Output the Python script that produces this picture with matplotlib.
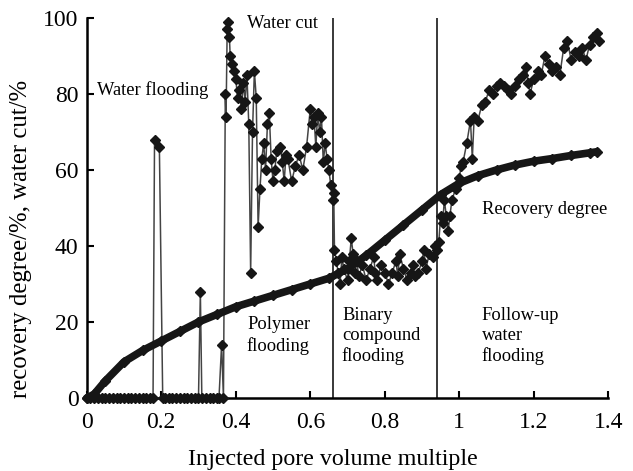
import matplotlib
matplotlib.use("Agg")
import matplotlib.pyplot as plt

plt.rcParams['font.family'] = ['Liberation Serif', 'DejaVu Serif']

# recovery degree curve
rec_x = [0, 0.02, 0.05, 0.1, 0.15, 0.2, 0.25, 0.3, 0.35, 0.4, 0.45, 0.5, 0.55, 0.6, 0.65,
         0.7, 0.75, 0.8, 0.85, 0.9, 0.95, 1.0, 1.05, 1.1, 1.15, 1.2, 1.25, 1.3, 1.35, 1.37]
rec_y = [0, 1, 4.5, 9.5, 12.5, 15, 17.5, 20, 22, 24, 25.5, 27, 28.5, 30, 31.5,
         34, 37.5, 41.5, 45.5, 49.5, 53.5, 56.5, 58.5, 60, 61.3, 62.3, 63, 63.8, 64.5, 64.8]

# water cut, in time order
wc_x = [0, 0.01, 0.02, 0.03, 0.04, 0.05, 0.06, 0.07, 0.08, 0.09, 0.1, 0.11, 0.12, 0.13,
        0.14, 0.15, 0.16, 0.17, 0.178, 0.182, 0.195, 0.204,
        0.21, 0.22, 0.23, 0.24, 0.25, 0.26, 0.27, 0.28, 0.29, 0.3, 0.305, 0.309,
        0.32, 0.33, 0.34, 0.35, 0.355, 0.362, 0.367,
        0.372, 0.374, 0.377, 0.38, 0.383, 0.385, 0.39, 0.395, 0.40, 0.405, 0.41, 0.415,
        0.42, 0.425, 0.43, 0.435, 0.44, 0.445, 0.45, 0.455, 0.46, 0.465, 0.47, 0.475,
        0.48, 0.485, 0.49, 0.495, 0.50, 0.505, 0.51, 0.52, 0.525, 0.53, 0.535, 0.54,
        0.55, 0.56, 0.57, 0.58, 0.59, 0.60, 0.605, 0.61, 0.615, 0.62, 0.625, 0.63,
        0.635, 0.64, 0.645, 0.65, 0.655, 0.66, 0.663, 0.665,
        0.67, 0.675, 0.68, 0.685, 0.69, 0.70, 0.705, 0.71, 0.715, 0.72, 0.725, 0.73,
        0.74, 0.75, 0.76, 0.77, 0.775, 0.78, 0.79, 0.80, 0.81, 0.82, 0.83, 0.835, 0.84,
        0.85, 0.86, 0.87, 0.875, 0.88, 0.89, 0.90, 0.905, 0.91, 0.92, 0.93, 0.935, 0.94,
        0.945, 0.95, 0.955, 0.96, 0.965, 0.97, 0.975, 0.98, 0.99, 1.0, 1.005, 1.01, 1.02,
        1.03, 1.035, 1.04, 1.05, 1.06, 1.07, 1.08, 1.09, 1.10, 1.11, 1.12, 1.13, 1.14,
        1.15, 1.16, 1.17, 1.18, 1.185, 1.19, 1.20, 1.21, 1.22, 1.23, 1.24, 1.25, 1.26,
        1.27, 1.28, 1.29, 1.30, 1.31, 1.32, 1.33, 1.34, 1.35, 1.36, 1.37, 1.375]
wc_y = [0, 0, 0, 0, 0, 0, 0, 0, 0, 0, 0, 0, 0, 0,
        0, 0, 0, 0, 0, 68, 66, 0,
        0, 0, 0, 0, 0, 0, 0, 0, 0, 0, 28, 0,
        0, 0, 0, 0, 0, 14, 0,
        80, 74, 97, 99, 95, 90, 88, 86, 84, 79, 81, 76,
        83, 78, 85, 72, 33, 70, 86, 79, 45, 55, 63, 67,
        60, 72, 75, 63, 57, 60, 65, 66, 62, 57, 64, 63,
        57, 61, 64, 60, 66, 76, 72, 74, 66, 75, 70, 74,
        62, 67, 63, 60, 56, 52, 54, 39,
        36, 33, 30, 37, 34, 31, 36, 42, 38, 33, 36, 32,
        35, 31, 34, 37, 33, 31, 35, 33, 30, 33, 36, 32, 38,
        34, 31, 33, 35, 32, 33, 36, 39, 34, 38, 37, 40, 39,
        41, 48, 46, 52, 48, 44, 48, 52, 55, 58, 61, 62, 67,
        73, 63, 74, 73, 77, 78, 81, 80, 82, 83, 82, 81, 80,
        82, 84, 85, 87, 83, 80, 84, 86, 85, 90, 88, 86, 87,
        85, 92, 94, 89, 91, 90, 92, 89, 93, 95, 96, 94]

stage_bounds = [0.66, 0.94]
xticks = [0, 0.2, 0.4, 0.6, 0.8, 1.0, 1.2, 1.4]
xtick_labels = ['0', '0.2', '0.4', '0.6', '0.8', '1', '1.2', '1.4']
yticks = [0, 20, 40, 60, 80, 100]

fig = plt.figure(figsize=(6.33, 4.71), dpi=100)
ax = fig.add_axes([0.137, 0.155, 0.824, 0.807])

for b in stage_bounds:
    ax.axvline(b, color='#2a2a2a', lw=1.3)

ax.plot(wc_x, wc_y, color='#444444', lw=1.1, marker='D', ms=5,
        mfc='#161616', mec='#161616', clip_on=False, zorder=3)
ax.plot(rec_x, rec_y, color='#161616', lw=5.5, marker='D', ms=5,
        solid_capstyle='round', clip_on=False, zorder=4)

ax.set_xlim(0, 1.4)
ax.set_ylim(0, 100)
ax.set_xticks(xticks)
ax.set_xticklabels(xtick_labels)
ax.set_yticks(yticks)
ax.tick_params(direction='in', length=5, width=1.5, labelsize=17, pad=6)
ax.tick_params(axis='x', pad=10)
for s in ['top', 'right']:
    ax.spines[s].set_visible(False)
for s in ['left', 'bottom']:
    ax.spines[s].set_linewidth(1.8)

ax.set_xlabel('Injected pore volume multiple', fontsize=17.3)
ax.set_ylabel('recovery degree/%, water cut/%', fontsize=17.8)
ax.xaxis.set_label_coords(0.472, -0.135)
ax.yaxis.set_label_coords(-0.104, 0.418)

fs = 13.3
ax.text(0.027, 81, 'Water flooding', fontsize=fs, va='center')
ax.text(0.43, 98.5, 'Water cut', fontsize=fs, va='center')
ax.text(0.43, 21.5, 'Polymer\nflooding', fontsize=fs, va='top', linespacing=1.25)
ax.text(0.685, 24, 'Binary\ncompound\nflooding', fontsize=fs, va='top', linespacing=1.25)
ax.text(1.06, 24, 'Follow-up\nwater\nflooding', fontsize=fs, va='top', linespacing=1.25)
ax.text(1.06, 49.5, 'Recovery degree', fontsize=fs, va='center')

fig.savefig('out.png', dpi=100)
